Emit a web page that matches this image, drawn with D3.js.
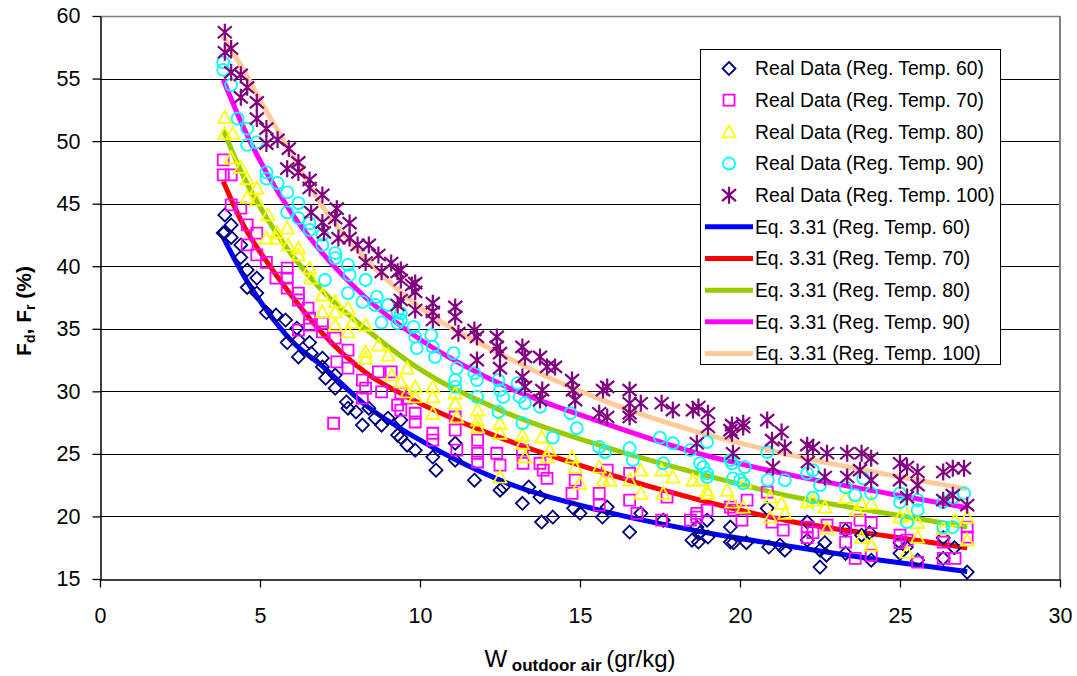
<!DOCTYPE html>
<html><head><meta charset="utf-8">
<script src="https://cdn.jsdelivr.net/npm/d3@7"></script>
<style>
body{margin:0;background:#fff;}
text{font-family:"Liberation Sans",Arial,Helvetica,sans-serif;fill:#000;}
</style>
</head><body>
<svg id="chart" width="1077" height="676"></svg>
<script>
// ---------- data ----------
const xTicks = [0, 5, 10, 15, 20, 25, 30];
const yTicks = [15, 20, 25, 30, 35, 40, 45, 50, 55, 60];

const realLabels = ["Real Data (Reg. Temp. 60)", "Real Data (Reg. Temp. 70)", "Real Data (Reg. Temp. 80)", "Real Data (Reg. Temp. 90)", "Real Data (Reg. Temp. 100)"];
const fitLabels = ["Eq. 3.31 (Reg. Temp. 60)", "Eq. 3.31 (Reg. Temp. 70)", "Eq. 3.31 (Reg. Temp. 80)", "Eq. 3.31 (Reg. Temp. 90)", "Eq. 3.31 (Reg. Temp. 100)"];

const real60 = [[3.9,44.1],[4.1,43.3],[3.9,42.7],[3.85,42.65],[4.1,42.3],[4.4,41.7],[4.4,40.7],[4.6,39.7],[4.9,39.05],[4.6,38.3],[4.9,37.85],[5.2,36.3],[5.5,36.1],[5.8,35.7],[6.15,35.05],[5.85,33.9],[6.2,34.1],[6.55,33.9],[6.2,32.75],[6.6,33.05],[6.95,32.65],[6.95,31.95],[7.05,31.05],[7.35,31.3],[7.35,30.25],[7.7,29.15],[7.75,28.65],[8.0,28.35],[8.2,27.3],[8.4,28.65],[8.6,27.85],[8.8,27.3],[9.0,27.85],[9.3,26.5],[9.6,25.7],[9.4,27.7],[9.4,26.3],[9.85,25.3],[10.4,24.75],[10.5,23.7],[11.1,25.85],[11.1,24.5],[11.7,22.9],[12.5,22.1],[12.6,22.35],[13.2,21.05],[13.4,22.35],[13.75,21.55],[13.8,19.55],[14.15,19.95],[14.8,20.65],[15.0,20.25],[15.7,19.95],[15.85,20.75],[16.55,18.75],[16.9,20.25],[17.6,19.7],[18.5,18.1],[18.75,18.7],[18.97,19.7],[19.7,19.15],[19.8,17.9],[18.65,19.15],[18.7,17.95],[19.0,18.35],[19.7,17.95],[20.2,17.9],[20.85,20.65],[20.9,17.55],[21.25,17.7],[21.4,17.3],[22.1,19.55],[22.1,18.1],[22.5,17.3],[22.65,17.9],[22.5,15.95],[22.7,16.9],[23.3,18.9],[23.3,17.05],[23.8,18.5],[24.05,18.7],[24.1,16.5],[25.0,17.9],[25.0,17.05],[25.2,17.55],[25.55,16.5],[26.35,18.3],[26.35,16.65],[26.7,17.5],[27.1,15.55]];

const real70 = [[3.85,48.5],[3.85,47.3],[4.1,47.3],[4.1,44.9],[4.4,44.65],[4.6,43.3],[4.9,42.65],[4.6,41.7],[4.9,40.9],[5.2,40.3],[5.5,39.05],[5.85,39.85],[5.85,39.05],[5.85,38.25],[6.2,37.85],[6.2,37.3],[6.5,36.65],[6.55,35.85],[6.55,35.3],[6.2,34.9],[6.95,35.45],[6.95,34.75],[7.35,34.25],[7.75,33.3],[7.4,32.35],[7.75,31.85],[7.3,27.45],[8.2,30.9],[8.3,30.25],[8.2,29.45],[8.7,31.55],[8.8,29.95],[9.1,31.55],[9.3,28.9],[9.6,29.45],[9.4,29.85],[9.4,28.5],[9.85,28.25],[9.85,27.55],[10.4,26.65],[10.4,26.1],[11.1,27.95],[11.1,26.9],[11.15,25.3],[11.8,26.1],[11.8,25.05],[11.8,24.35],[12.4,25.05],[12.5,24.1],[13.2,25.3],[13.22,24.25],[13.75,24.25],[13.85,23.7],[13.97,23.05],[14.75,21.85],[14.85,22.9],[15.6,21.85],[15.6,20.9],[15.85,23.7],[16.55,23.45],[16.55,21.3],[16.78,20.25],[17.55,19.7],[17.72,21.55],[18.45,19.7],[18.65,20.25],[18.97,20.5],[19.8,20.5],[20.06,19.7],[18.65,19.95],[19.7,20.75],[20.22,21.3],[20.85,21.95],[21.0,19.55],[21.35,18.9],[22.1,19.15],[22.1,18.3],[22.28,18.7],[22.72,19.3],[23.3,19.05],[23.3,17.95],[23.75,19.7],[24.1,19.5],[23.6,16.65],[24.1,16.9],[25.0,18.5],[25.22,18.1],[25.0,17.9],[25.55,16.35],[26.35,17.95],[26.35,16.65],[26.72,16.65],[27.1,19.15],[27.1,18.35]];

const real80 = [[3.9,51.9],[3.9,50.6],[4.15,50.6],[4.1,48.65],[4.4,47.9],[4.6,47.0],[4.6,45.5],[4.9,46.25],[4.9,45.3],[5.25,44.1],[5.53,42.7],[5.85,43.05],[5.2,42.25],[5.5,42.25],[5.88,41.7],[6.2,41.45],[6.2,40.9],[6.55,39.85],[6.6,39.05],[6.95,37.7],[6.95,36.35],[7.35,37.15],[7.35,36.35],[7.75,36.65],[7.88,35.5],[7.35,35.3],[7.75,34.75],[8.3,35.3],[8.3,33.15],[8.3,32.65],[8.7,33.7],[9.0,32.9],[9.12,31.3],[9.4,30.75],[9.6,31.85],[9.6,29.95],[9.85,30.35],[9.85,29.55],[10.4,30.35],[10.4,29.55],[10.4,28.25],[11.1,29.85],[11.1,29.05],[11.15,27.95],[11.8,28.5],[11.8,27.7],[11.8,27.15],[12.5,27.45],[12.5,26.65],[12.5,23.15],[13.2,26.5],[13.2,25.85],[13.28,24.75],[13.8,26.35],[14.05,25.3],[13.97,24.75],[14.75,24.75],[14.85,23.95],[15.0,22.65],[15.6,23.95],[15.72,22.9],[15.94,22.9],[16.55,22.9],[16.9,23.7],[16.9,21.85],[17.55,23.7],[17.6,21.85],[17.9,23.15],[18.75,22.9],[18.97,22.1],[19.6,22.1],[20.1,20.75],[18.53,22.9],[19.0,21.85],[19.75,21.15],[20.15,22.75],[20.95,21.55],[20.95,19.95],[21.3,21.05],[21.4,20.25],[22.1,21.15],[22.28,21.3],[22.65,20.75],[22.72,19.05],[23.3,21.5],[23.65,20.5],[23.8,21.05],[24.1,21.05],[23.8,18.3],[24.1,17.7],[25.0,19.95],[25.22,20.1],[25.55,19.5],[25.55,18.35],[25.22,17.15],[26.35,19.05],[26.72,19.7],[27.1,19.95],[27.1,18.1]];

const real90 = [[3.85,56.3],[3.85,55.7],[4.1,54.5],[4.3,51.8],[4.6,51.0],[4.6,49.7],[4.9,49.9],[5.2,47.5],[5.2,47.0],[5.55,46.65],[5.85,45.9],[6.2,45.05],[5.85,44.3],[6.2,43.85],[6.55,43.45],[6.55,42.9],[6.95,42.5],[6.95,41.7],[7.35,41.05],[7.35,40.65],[7.03,38.9],[7.75,40.1],[7.8,39.3],[7.75,37.85],[8.3,38.9],[8.2,37.15],[8.65,37.55],[8.6,36.9],[8.8,35.5],[9.0,36.9],[9.3,36.35],[9.3,35.45],[9.4,36.25],[9.4,35.7],[9.8,35.15],[9.85,34.35],[9.9,33.45],[10.35,34.5],[10.4,33.55],[10.47,32.75],[11.05,33.05],[11.15,31.85],[11.1,30.9],[11.1,30.35],[11.7,31.45],[11.78,30.9],[11.78,29.55],[12.45,30.9],[12.5,30.1],[12.6,29.55],[12.45,28.35],[13.05,30.65],[13.12,29.55],[13.28,29.05],[13.75,28.75],[14.7,28.25],[13.2,27.45],[14.15,26.3],[14.9,27.05],[15.6,25.55],[15.78,25.15],[16.55,25.45],[16.65,24.5],[17.5,26.3],[17.9,25.85],[17.6,24.25],[18.45,25.3],[18.85,23.95],[18.97,25.95],[18.97,23.15],[19.75,24.25],[20.0,22.9],[18.75,24.25],[18.97,23.45],[19.7,24.5],[19.78,23.05],[20.15,23.95],[20.1,22.65],[20.85,25.15],[20.87,22.9],[21.4,22.9],[22.1,23.45],[22.28,23.7],[22.28,21.5],[22.5,22.5],[23.3,22.35],[23.6,21.7],[23.85,23.05],[24.1,21.85],[25.0,21.85],[25.0,21.15],[25.55,21.3],[25.55,20.5],[25.22,19.55],[26.35,21.15],[26.65,21.5],[27.0,21.85],[26.35,19.15],[26.65,19.15]];

const real100 = [[3.9,58.7],[3.9,57.1],[4.1,57.4],[4.1,55.5],[4.4,55.3],[4.4,53.5],[4.6,54.3],[4.9,53.1],[4.9,51.8],[5.2,51.0],[5.2,49.8],[5.55,50.1],[5.9,49.4],[5.85,47.8],[6.2,48.3],[6.2,47.5],[6.55,46.9],[6.55,46.25],[6.6,44.3],[6.95,45.7],[6.95,43.5],[7.4,44.6],[7.35,43.85],[7.8,43.45],[7.0,42.7],[7.45,42.25],[7.8,42.25],[8.05,41.7],[8.4,41.7],[8.3,40.3],[8.7,40.9],[8.8,39.55],[9.1,40.25],[9.3,39.55],[9.3,36.9],[9.75,38.5],[9.4,39.7],[9.4,38.9],[9.4,37.3],[9.85,38.65],[9.85,37.95],[9.85,36.5],[10.4,37.05],[10.4,36.35],[10.4,35.7],[11.1,36.75],[11.1,35.95],[11.2,34.65],[11.7,34.9],[11.78,34.35],[11.78,32.5],[12.4,34.35],[12.4,33.55],[12.5,33.05],[12.5,31.85],[13.2,33.55],[13.28,32.75],[13.2,31.15],[13.28,30.35],[13.75,32.75],[13.97,31.95],[13.82,30.1],[13.75,29.3],[14.22,31.95],[14.75,30.9],[14.78,30.1],[14.85,29.3],[15.72,30.1],[15.85,30.35],[15.6,28.25],[16.55,30.1],[16.55,29.05],[16.9,29.05],[16.55,28.25],[17.55,29.05],[17.9,28.5],[18.53,28.5],[15.85,27.95],[16.55,27.95],[18.65,25.85],[19.7,26.9],[20.1,27.15],[18.7,28.75],[19.0,28.25],[19.0,27.15],[19.75,27.3],[19.75,26.65],[20.1,27.45],[19.78,25.05],[20.85,27.7],[21.0,26.1],[21.3,26.75],[21.4,25.5],[21.03,23.95],[22.1,25.7],[22.28,25.5],[22.72,25.05],[22.12,24.35],[22.65,23.15],[23.35,25.05],[23.8,25.05],[24.1,24.65],[23.35,23.15],[23.75,23.7],[24.1,22.9],[25.0,24.25],[25.22,23.95],[25.55,23.55],[25.0,22.9],[25.22,21.55],[25.55,22.5],[26.35,23.55],[26.65,23.85],[27.0,23.85],[26.35,21.3],[26.65,21.7],[27.1,20.9]];

const fitW   = [3.85, 4.5, 5.2, 6.0, 7.0, 8.3, 9.8, 12.5, 15.6, 18.75, 21.6, 24.7, 27.1];
const fit60  = [42.3, 39.2, 36.5, 34.0, 31.9, 28.9, 26.4, 22.9, 20.5, 18.8, 17.6, 16.4, 15.6];
const fit70  = [46.8, 43.2, 40.4, 37.6, 34.5, 31.5, 29.3, 26.3, 23.6, 21.3, 19.6, 18.4, 17.5];
const fit80  = [50.9, 47.1, 43.9, 40.9, 37.9, 35.0, 32.1, 28.5, 25.7, 23.4, 21.6, 20.2, 19.15];
const fit90  = [54.9, 51.0, 47.5, 44.2, 40.9, 37.5, 34.5, 30.6, 27.6, 25.0, 23.3, 21.8, 20.7];
const fit100 = [58.4, 55.6, 52.4, 48.9, 44.6, 40.6, 37.1, 33.0, 29.4, 26.7, 24.9, 23.3, 22.2];

// ---------- setup ----------
const svg = d3.select("#chart");
const L = 100, R = 1060, T = 16, B = 579;
const x = d3.scaleLinear().domain([0, 30]).range([L, R]);
const y = d3.scaleLinear().domain([15, 60]).range([B, T]);

const realSets = [real60, real70, real80, real90, real100];
const fitSets = [fit60, fit70, fit80, fit90, fit100];
const lineColors = ["#0000FF", "#FF0000", "#99CC00", "#FF00FF", "#FFCC99"];
const markerColors = ["#000080", "#FF00FF", "#FFFF00", "#00FFFF", "#800080"];
const markerPaths = [
  "M0,-6.5L6.5,0L0,6.5L-6.5,0Z",
  "M-5.5,-5.5H5.5V5.5H-5.5Z",
  "M0,-6.5L6.5,5.5H-6.5Z",
  "M6,0A6,6 0 1 1 -6,0A6,6 0 1 1 6,0Z",
  "M0,-8.5V8.5M-7,-6L7,6M-7,6L7,-6"
];
const markerWidths = [1.8, 1.8, 1.8, 1.8, 2.2];

// gridlines
svg.append("g").selectAll("line").data(yTicks.filter(v => v > 15 && v < 60)).join("line")
  .attr("x1", L).attr("x2", R)
  .attr("y1", d => Math.round(y(d)) + 0.5).attr("y2", d => Math.round(y(d)) + 0.5)
  .attr("stroke", "#000").attr("stroke-width", 1);

// plot border top/right (gray)
svg.append("line").attr("x1", L).attr("x2", R).attr("y1", T + 0.5).attr("y2", T + 0.5)
  .attr("stroke", "#808080").attr("stroke-width", 1.5);
svg.append("line").attr("x1", R).attr("x2", R).attr("y1", T).attr("y2", B)
  .attr("stroke", "#808080").attr("stroke-width", 2);

// axes
const yAxis = d3.axisLeft(y).tickValues(yTicks).tickSize(8).tickSizeOuter(0).tickPadding(12);
const xAxis = d3.axisBottom(x).tickValues(xTicks).tickSize(8).tickSizeOuter(0).tickPadding(20);
const gy = svg.append("g").attr("transform", `translate(${L + 0.5},0)`).call(yAxis);
const gx = svg.append("g").attr("transform", `translate(0,${B + 0.5})`).call(xAxis);
[gy, gx].forEach(g => {
  g.selectAll("path.domain").attr("stroke", "#000").attr("stroke-width", 1.5);
  g.selectAll(".tick line").attr("stroke", "#000").attr("stroke-width", 1.3);
  g.selectAll(".tick text").attr("font-size", 21.5).attr("fill", "#000")
    .style("font-family", '"Liberation Sans", Arial, sans-serif');
});

// fitted curves
const lineGen = d3.line().x(d => x(d[0])).y(d => y(d[1])).curve(d3.curveMonotoneX);
fitSets.forEach((vals, i) => {
  svg.append("path").datum(fitW.map((w, j) => [w, vals[j]]))
    .attr("d", lineGen).attr("fill", "none")
    .attr("stroke", lineColors[i]).attr("stroke-width", 5).attr("stroke-linejoin", "round");
});

// markers
realSets.forEach((pts, i) => {
  svg.append("g").selectAll("path").data(pts).join("path")
    .attr("transform", d => `translate(${x(d[0])},${y(d[1])})`)
    .attr("d", markerPaths[i]).attr("fill", "none")
    .attr("stroke", markerColors[i]).attr("stroke-width", markerWidths[i]);
});

// legend
const lg = svg.append("g");
lg.append("rect").attr("x", 700.5).attr("y", 49.5).attr("width", 300).attr("height", 315)
  .attr("fill", "#fff").attr("stroke", "#000").attr("stroke-width", 1);
const rowY = i => 68.5 + i * 31.67;
realLabels.forEach((lab, i) => {
  lg.append("path").attr("transform", `translate(729,${rowY(i)})`).attr("d", markerPaths[i])
    .attr("fill", "none").attr("stroke", markerColors[i]).attr("stroke-width", markerWidths[i]);
  lg.append("text").attr("x", 755).attr("y", rowY(i)).attr("dy", "0.35em")
    .attr("font-size", 19.3).text(lab);
});
fitLabels.forEach((lab, k) => {
  const i = k + 5;
  lg.append("line").attr("x1", 705).attr("x2", 753).attr("y1", rowY(i)).attr("y2", rowY(i))
    .attr("stroke", lineColors[k]).attr("stroke-width", 5);
  lg.append("text").attr("x", 755).attr("y", rowY(i)).attr("dy", "0.35em")
    .attr("font-size", 19.3).text(lab);
});

// axis titles
const xt = svg.append("text").attr("x", 580).attr("y", 667).attr("text-anchor", "middle").attr("font-size", 24);
xt.append("tspan").text("W");
xt.append("tspan").attr("font-size", 17).attr("font-weight", "bold").attr("dy", 4).text(" outdoor air ");
xt.append("tspan").attr("dy", -4).text("(gr/kg)");

const yt = svg.append("text").attr("transform", "translate(31,311) rotate(-90)")
  .attr("text-anchor", "middle").attr("font-size", 21).attr("font-weight", "bold");
yt.append("tspan").text("F");
yt.append("tspan").attr("font-size", 14).attr("dy", 4).text("d");
yt.append("tspan").attr("dy", -4).text(", F");
yt.append("tspan").attr("font-size", 14).attr("dy", 4).text("r");
yt.append("tspan").attr("dy", -4).text(" (%)");
</script>
</body></html>
